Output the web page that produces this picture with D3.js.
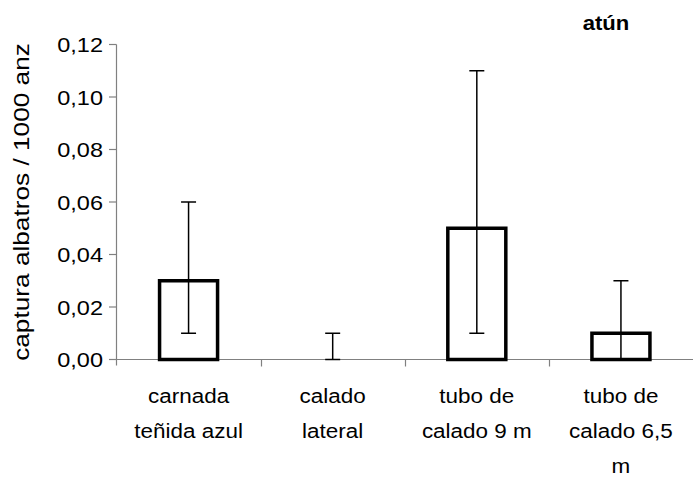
<!DOCTYPE html>
<html><head><meta charset="utf-8">
<script src="https://cdn.jsdelivr.net/npm/d3@7"></script>
<style>body{margin:0;background:#fff}svg{display:block}text{font-family:"Liberation Sans",Arial,sans-serif;fill:#000}</style>
</head><body><svg id="c" width="693" height="477"></svg>
<script>
const categories = [["carnada","teñida azul"],["calado","lateral"],["tubo de","calado 9 m"],["tubo de","calado 6,5","m"]];
const values = [0.03, 0.0, 0.05, 0.01];
const errLow = [0.01, 0.0, 0.01, 0.0];
const errHigh = [0.06, 0.01, 0.11, 0.03];
const yTicks = [0, 0.02, 0.04, 0.06, 0.08, 0.10, 0.12];
const title = "atún";
const yTitle = "captura albatros / 1000 anz";

const svg = d3.select("#c");
const x = d3.scaleBand().domain(d3.range(categories.length)).range([116.5, 693]).padding(0);
const y = d3.scaleLinear().domain([0, 0.12]).range([359.5, 44.5]);
const fmt = v => d3.format(".2f")(v).replace(".", ",");
const gray = "#808080";

// y axis
svg.append("line").attr("x1",116.5).attr("x2",116.5).attr("y1",y(0.12)).attr("y2",y(0)+6).attr("stroke",gray).attr("stroke-width",1.2);
svg.selectAll(".yt").data(yTicks).enter().append("line")
  .attr("x1",109).attr("x2",116.5).attr("y1",d=>y(d)).attr("y2",d=>y(d)).attr("stroke",gray).attr("stroke-width",1.2);
svg.selectAll(".yl").data(yTicks).enter().append("text")
  .attr("transform",d=>`translate(${103},${y(d)+7.5}) scale(1.12,1)`)
  .attr("text-anchor","end").attr("font-size",21).text(fmt);

// x axis
svg.append("line").attr("x1",116.5).attr("x2",693).attr("y1",y(0)).attr("y2",y(0)).attr("stroke",gray).attr("stroke-width",1.2);
svg.selectAll(".xt").data(d3.range(1,categories.length)).enter().append("line")
  .attr("x1",d=>Math.round(x(d))+0.5).attr("x2",d=>Math.round(x(d))+0.5).attr("y1",y(0)).attr("y2",y(0)+7).attr("stroke",gray).attr("stroke-width",1.2);

// category labels
const cg = svg.selectAll(".cl").data(categories).enter().append("g");
cg.each(function(lines,i){
  const g = d3.select(this);
  lines.forEach((t,j)=>{
    g.append("text").attr("transform",`translate(${x(i)+x.bandwidth()/2},${403+j*35}) scale(1.07,1)`)
      .attr("text-anchor","middle").attr("font-size",21).text(t);
  });
});

// bars
const bw = 58;
svg.selectAll(".bar").data(values).enter().append("rect")
  .attr("x",(d,i)=>x(i)+x.bandwidth()/2-bw/2)
  .attr("y",d=>y(d)).attr("width",bw).attr("height",d=>y(0)-y(d))
  .attr("fill","#fff").attr("stroke","#000").attr("stroke-width",3.5);

// error bars
const cap = 15;
values.forEach((v,i)=>{
  const cx = x(i)+x.bandwidth()/2;
  svg.append("line").attr("x1",cx).attr("x2",cx).attr("y1",y(errLow[i])).attr("y2",y(errHigh[i])).attr("stroke","#000").attr("stroke-width",1.5);
  [errLow[i],errHigh[i]].forEach(e=>{
    svg.append("line").attr("x1",cx-cap/2).attr("x2",cx+cap/2).attr("y1",y(e)).attr("y2",y(e)).attr("stroke","#000").attr("stroke-width",1.5);
  });
});

// titles
svg.append("text").attr("transform","translate(606,30) scale(1.05,1)").attr("text-anchor","middle")
  .attr("font-size",21).attr("font-weight","bold").text(title);
svg.append("text").attr("transform",`translate(29,${(y(0)+y(0.12))/2}) rotate(-90) scale(1.22,1)`)
  .attr("text-anchor","middle").attr("font-size",21.5).text(yTitle);
</script></body></html>
